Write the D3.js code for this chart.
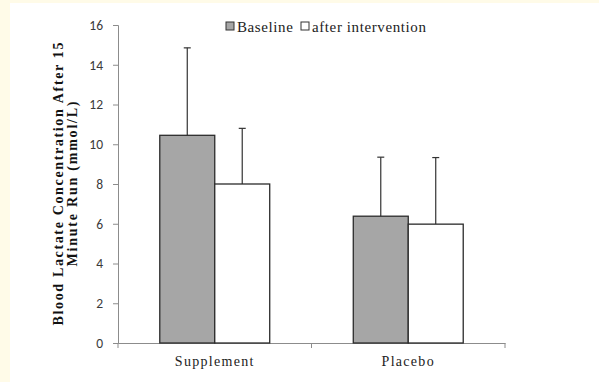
<!DOCTYPE html>
<html>
<head>
<meta charset="utf-8">
<script src="https://cdn.jsdelivr.net/npm/d3@7"></script>
<style>
  html, body { margin: 0; padding: 0; background: #fffbe8; }
  svg { display: block; }
</style>
</head>
<body>
<div id="chart"></div>
<script>
const categories = ["Supplement", "Placebo"];
const seriesNames = ["Baseline", "after intervention"];
const baseline = [10.45, 6.38];
const afterIntervention = [8.0, 5.98];
const baselineSD = [4.4, 2.97];
const afterSD = [2.8, 3.35];
const yTicks = [0, 2, 4, 6, 8, 10, 12, 14, 16];

const width = 599, height = 382;
const margin = { top: 25, right: 94, bottom: 39, left: 118 };
const colors = ["#a6a6a6", "#ffffff"];

const svg = d3.select("#chart").append("svg")
  .attr("width", width).attr("height", height);

// white panel over the cream page
svg.append("rect").attr("x", 10).attr("y", 3)
  .attr("width", width - 10).attr("height", height - 3).attr("fill", "#fff");

const x = d3.scaleBand().domain(categories)
  .range([margin.left, width - margin.right]).paddingInner(0).paddingOuter(0);
const x1 = d3.scaleBand().domain(seriesNames)
  .range([0, x.bandwidth()]).paddingInner(0).paddingOuter(0.76);
const y = d3.scaleLinear().domain([0, 16]).range([height - margin.bottom, margin.top]);

const data = categories.map((c, i) => ({
  cat: c,
  vals: [
    { s: seriesNames[0], v: baseline[i], e: baselineSD[i] },
    { s: seriesNames[1], v: afterIntervention[i], e: afterSD[i] }
  ]
}));

// y axis
const gy = svg.append("g")
  .attr("transform", `translate(${margin.left},0)`)
  .call(d3.axisLeft(y).tickValues(yTicks).tickSize(5).tickPadding(10));
gy.selectAll("path, line").attr("stroke", "#8c8c8c");
gy.selectAll("text").attr("font-family", "Carlito, 'Liberation Sans', Arial, sans-serif")
  .attr("font-size", 13.5).attr("fill", "#3a3a3a");

// x axis
const gx = svg.append("g")
  .attr("transform", `translate(0,${y(0)})`)
  .call(d3.axisBottom(x).tickSize(0).tickPadding(13));
gx.select(".domain").attr("stroke", "#8c8c8c");
gx.selectAll("text").attr("font-family", "'Liberation Serif', 'DejaVu Serif', serif")
  .attr("font-size", 14).attr("fill", "#222").attr("letter-spacing", "1.3px");
// category boundary ticks
gx.selectAll(".bound").data([...categories.map(c => x(c)), x.range()[1]]).join("line")
  .attr("class", "bound").attr("x1", d => d).attr("x2", d => d)
  .attr("y1", 0).attr("y2", 5).attr("stroke", "#8c8c8c");

// bars
const groups = svg.append("g").selectAll("g").data(data).join("g")
  .attr("transform", d => `translate(${x(d.cat)},0)`);

groups.selectAll("line.err").data(d => d.vals).join("line")
  .attr("class", "err")
  .attr("x1", d => x1(d.s) + x1.bandwidth() / 2)
  .attr("x2", d => x1(d.s) + x1.bandwidth() / 2)
  .attr("y1", d => y(d.v)).attr("y2", d => y(d.v + d.e))
  .attr("stroke", "#333").attr("stroke-width", 1.2);
groups.selectAll("line.cap").data(d => d.vals).join("line")
  .attr("class", "cap")
  .attr("x1", d => x1(d.s) + x1.bandwidth() / 2 - 3.5)
  .attr("x2", d => x1(d.s) + x1.bandwidth() / 2 + 3.5)
  .attr("y1", d => y(d.v + d.e)).attr("y2", d => y(d.v + d.e))
  .attr("stroke", "#333").attr("stroke-width", 1.2);

groups.selectAll("rect").data(d => d.vals).join("rect")
  .attr("x", d => x1(d.s))
  .attr("y", d => y(d.v))
  .attr("width", x1.bandwidth())
  .attr("height", d => y(0) - y(d.v))
  .attr("fill", (d, i) => colors[i])
  .attr("stroke", "#2b2b2b").attr("stroke-width", 1.3);

// legend
const legendX = [226, 301];
const lg = svg.append("g").selectAll("g").data(seriesNames).join("g")
  .attr("transform", (d, i) => `translate(${legendX[i]},22)`);
lg.append("rect").attr("width", 8).attr("height", 8)
  .attr("fill", (d, i) => colors[i]).attr("stroke", "#333").attr("stroke-width", 1);
lg.append("text").attr("x", 11).attr("y", 10).text(d => d)
  .attr("font-family", "'Liberation Serif', 'DejaVu Serif', serif")
  .attr("font-size", 15).attr("fill", "#222").attr("letter-spacing", "0.6px");

// y axis title
const yt = svg.append("text")
  .attr("transform", `translate(63,184) rotate(-90)`)
  .attr("text-anchor", "middle")
  .attr("font-family", "'Liberation Serif', 'DejaVu Serif', serif")
  .attr("font-weight", "bold").attr("font-size", 14).attr("fill", "#111");
yt.append("tspan").attr("x", 0).attr("dy", 0)
  .attr("textLength", 283).attr("lengthAdjust", "spacing")
  .text("Blood Lactate Concentration  After 15");
yt.append("tspan").attr("x", 0).attr("dy", 14)
  .attr("textLength", 165).attr("lengthAdjust", "spacing")
  .text("Minute Run (mmol/L)");
</script>
</body>
</html>
